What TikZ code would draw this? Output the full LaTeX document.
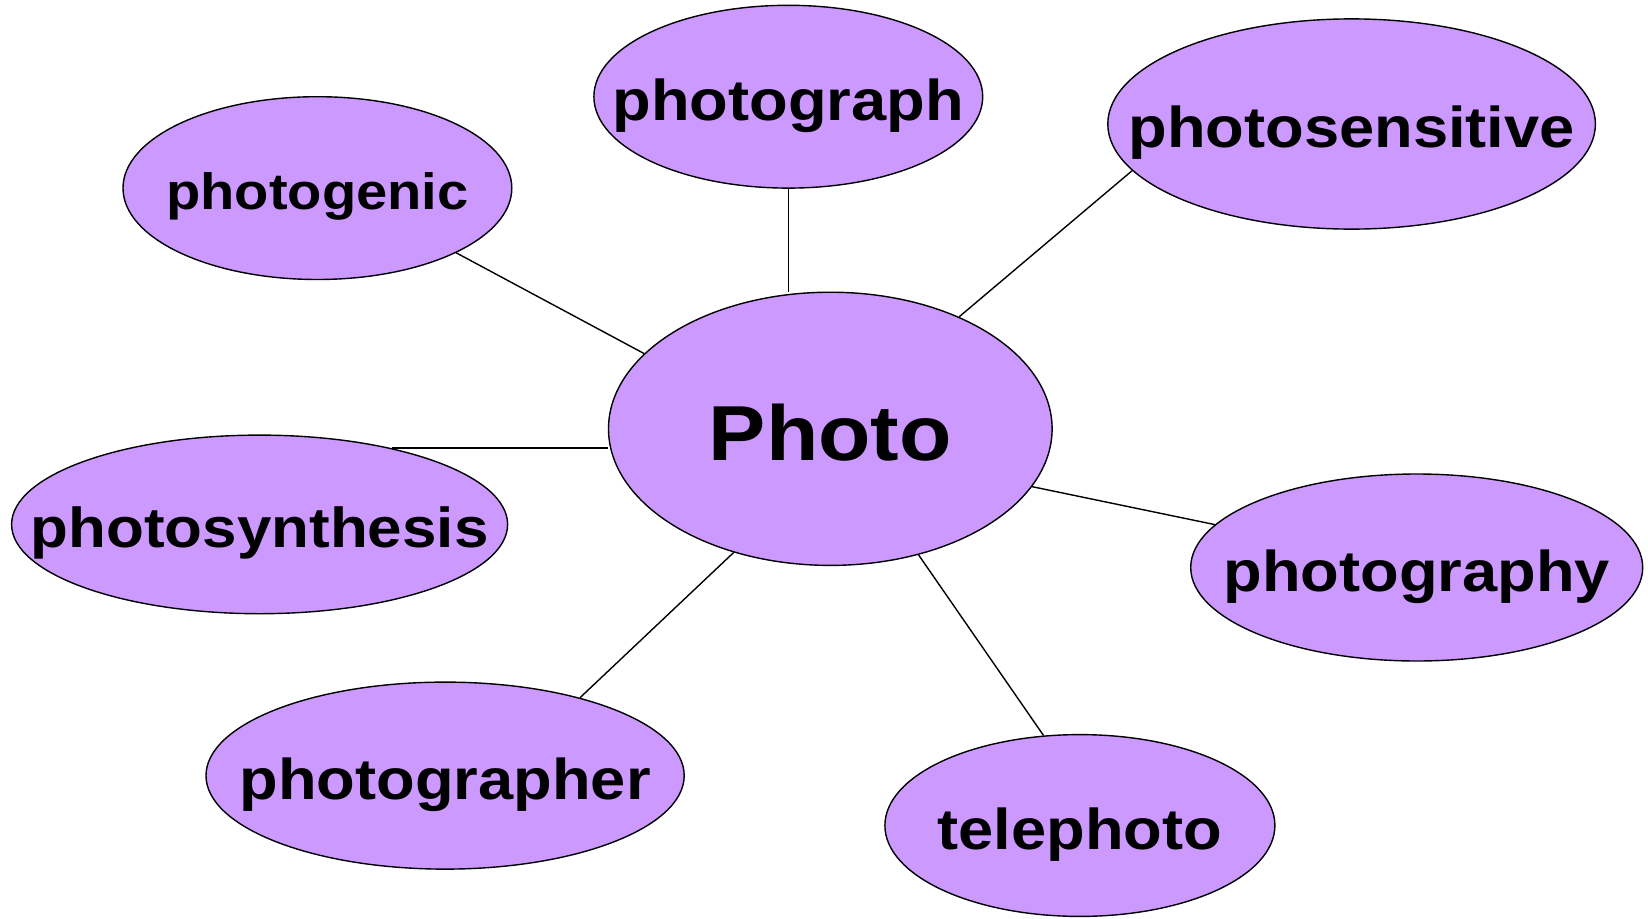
\documentclass[tikz,border=0pt]{standalone}
\usepackage{fontspec}
\newfontfamily\bubfont{Liberation Sans}[FakeStretch=1.1]
\usetikzlibrary{shapes.geometric}
\definecolor{lav}{RGB}{204,153,255}
\tikzset{
  bub/.style={ellipse, draw=black, fill=lav, line width=1.4pt, inner sep=0pt},
  word/.style={inner sep=0pt, text depth=0pt, yshift=-3pt, font=\bubfont\bfseries\fontsize{57.5}{60}\selectfont},
  bigword/.style={word, font=\bubfont\bfseries\fontsize{78}{80}\selectfont},
  smallword/.style={word, font=\bubfont\bfseries\fontsize{51}{54}\selectfont},
  midword/.style={word, font=\bubfont\bfseries\fontsize{56.3}{60}\selectfont},
  link/.style={draw=black, line width=1.4pt}
}
\begin{document}
\begin{tikzpicture}[x=1pt,y=-1pt]
\useasboundingbox (0,0) rectangle (1648,918);
% bubbles
\node[bub, minimum width=443.6pt, minimum height=273.2pt] (photo) at (830.3,428.8) {};
\node[bub, minimum width=388.8pt, minimum height=182.8pt] (gen) at (317.4,188.1) {};
\node[bub, minimum width=388.8pt, minimum height=182.8pt] (graph) at (788.3,96.7) {};
\node[bub, minimum width=487.6pt, minimum height=210.2pt] (sens) at (1351.6,124.0) {};
\node[bub, minimum width=496pt, minimum height=178.6pt] (synth) at (259.6,524.4) {};
\node[bub, minimum width=452pt, minimum height=187pt] (graphy) at (1416.7,567.5) {};
\node[bub, minimum width=478.2pt, minimum height=187pt] (grapher) at (445.1,775.6) {};
\node[bub, minimum width=390pt, minimum height=181.8pt] (tele) at (1079.9,825.5) {};
% texts
\node[bigword] (photo-t) at (photo) {Photo};
\node[smallword] (gen-t) at (gen) {photogenic};
\node[word] (graph-t) at (graph) {photograph};
\node[word] (sens-t) at (sens) {photosensitive};
\node[midword] (synth-t) at (synth) {photosynthesis};
\node[word] (graphy-t) at (graphy) {photography};
\node[word] (grapher-t) at (grapher) {photographer};
\node[word] (tele-t) at (tele) {telephoto};
% connectors
\draw[link] (gen.-25.3) -- (photo.158.3);
\draw[link] (graph.south) -- (graph.south |- photo.north);
\draw[link] (sens.-168.7) -- (photo.41.5);
\draw[link] (synth.30.3) -- (synth.30.3 -| photo.west);
\draw[link] (photo.-16.4) -- (graphy.168.5);
\draw[link] (photo.-128.2) -- (grapher.30.5);
\draw[link] (photo.-55.6) -- (tele.112);
\end{tikzpicture}
\end{document}
